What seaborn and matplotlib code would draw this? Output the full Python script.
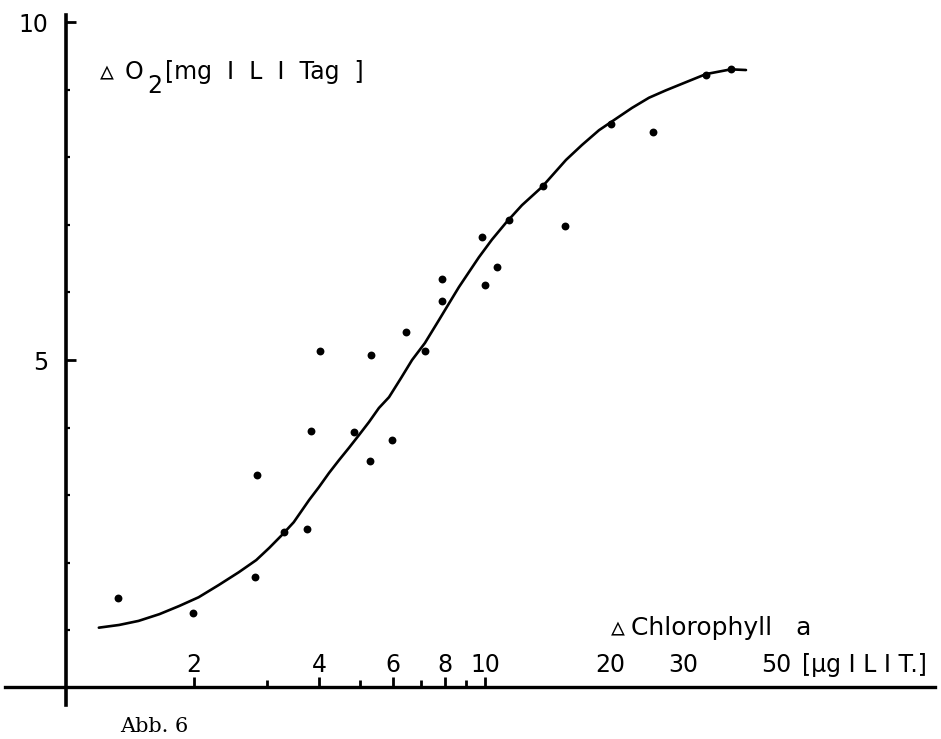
import matplotlib
matplotlib.use('Agg')
import matplotlib.pyplot as plt
import numpy as np
import pandas as pd
import seaborn as sns
from matplotlib.ticker import FixedLocator, FixedFormatter, NullFormatter

# Measured points: chlorophyll a [µg/l] vs. O2 production [mg/l/Tag]
chl = [1.31, 1.99, 2.80, 2.83, 3.29, 3.73, 3.82, 4.01, 4.84, 5.29, 5.32, 5.98, 6.46,
       7.17, 7.88, 7.88, 9.84, 10.0, 10.7, 11.4, 13.8, 15.6, 20.1, 25.3, 34.0, 39.0]
o2 = [1.48, 1.26, 1.79, 3.30, 2.46, 2.50, 3.95, 5.13, 3.93, 3.51, 5.07, 3.82, 5.41,
      5.13, 6.20, 5.87, 6.82, 6.11, 6.38, 7.07, 7.57, 6.98, 8.49, 8.37, 9.22, 9.30]

# Hand-drawn fitted curve
curve_chl = [1.18, 1.32, 1.47, 1.65, 1.84, 2.05, 2.29, 2.56, 2.82, 3.03, 3.25, 3.47,
             3.78, 3.99, 4.22, 4.46, 4.71, 4.98, 5.26, 5.56, 5.88, 6.28, 6.68, 7.17,
             7.75, 8.20, 8.66, 9.15, 9.67, 10.39, 11.23, 12.27, 13.71, 15.66, 17.10,
             18.80, 22.57, 24.79, 27.23, 30.41, 33.98, 39.0, 42.4]
curve_o2 = [1.04, 1.08, 1.14, 1.24, 1.36, 1.49, 1.67, 1.86, 2.04, 2.22, 2.41, 2.60,
            2.93, 3.12, 3.33, 3.52, 3.70, 3.89, 4.08, 4.29, 4.45, 4.73, 5.00, 5.25,
            5.59, 5.84, 6.08, 6.30, 6.52, 6.78, 7.03, 7.29, 7.56, 7.96, 8.18,
            8.40, 8.73, 8.88, 8.99, 9.11, 9.23, 9.30, 9.29]

x_tick_values = [2, 4, 6, 8, 10, 20, 30, 50]
x_tick_labels = ['2', '4', '6', '8', '10', '20', '30', '50']
x_minor_ticks = [3, 5, 7, 9]
y_tick_values = [5, 10]
y_tick_labels = ['5', '10']
y_minor_ticks = [1, 2, 3, 4, 6, 7, 8, 9]

sns.set_style('white')
plt.rcParams['font.family'] = ['DejaVu Sans']
plt.rcParams['text.color'] = 'black'

fig = plt.figure(figsize=(9.41, 7.39), dpi=100)
ax = fig.add_axes([5 / 941, 29 / 739, 930 / 941, 700 / 739])

pts = pd.DataFrame({'chl': chl, 'o2': o2})
crv = pd.DataFrame({'chl': curve_chl, 'o2': curve_o2})

sns.lineplot(data=crv, x='chl', y='o2', color='black', lw=1.9, sort=False, ax=ax)
sns.scatterplot(data=pts, x='chl', y='o2', color='black', s=32, linewidth=0, ax=ax, zorder=3)

ax.set_xscale('log')
ax.set_xlim(0.702, 120.7)
ax.set_ylim(-0.178, 10.178)
ax.set_xlabel('')
ax.set_ylabel('')

for s in ['top', 'right']:
    ax.spines[s].set_visible(False)
ax.spines['left'].set_position(('data', 0.985))
ax.spines['left'].set_bounds(-0.10, 10.10)
ax.spines['left'].set_linewidth(2.6)
ax.spines['left'].set_color('black')
ax.spines['bottom'].set_position(('data', 0.16))
ax.spines['bottom'].set_linewidth(2.4)
ax.spines['bottom'].set_color('black')

ax.xaxis.set_major_locator(FixedLocator(x_tick_values))
ax.xaxis.set_major_formatter(FixedFormatter(x_tick_labels))
ax.xaxis.set_minor_locator(FixedLocator(x_minor_ticks))
ax.xaxis.set_minor_formatter(NullFormatter())
ax.tick_params(axis='x', which='both', bottom=True, top=False)
ax.tick_params(axis='x', which='major', direction='in', length=7, width=2.0,
               pad=-7, labelsize=17, colors='black')
ax.tick_params(axis='x', which='minor', direction='in', length=5, width=2.0, colors='black')
for lab in ax.get_xticklabels():
    lab.set_va('bottom')
for t in ax.xaxis.get_major_ticks()[5:]:
    t.tick1line.set_visible(False)

ax.yaxis.set_major_locator(FixedLocator(y_tick_values))
ax.yaxis.set_major_formatter(FixedFormatter(y_tick_labels))
ax.yaxis.set_minor_locator(FixedLocator(y_minor_ticks))
ax.yaxis.set_minor_formatter(NullFormatter())
ax.tick_params(axis='y', which='both', left=True, right=False)
ax.tick_params(axis='y', which='major', direction='in', length=7, width=2.0,
               pad=13, labelsize=17, colors='black')
ax.tick_params(axis='y', which='minor', direction='in', length=3, width=1.6, colors='black')

W, H = 941, 739
def ftext(px, py, s, **kw):
    fig.text(px / W, 1 - py / H, s, va='baseline', color='black', **kw)

# y-axis quantity label
ftext(100, 79, '▵', fontsize=20)
ftext(125, 79, 'O', fontsize=17)
ftext(147, 93, '2', fontsize=17)
ftext(165, 79, '[mg  I  L  I  Tag  ]', fontsize=17)
# x-axis quantity label and unit
ftext(611, 635, '▵', fontsize=20)
ftext(631, 635, 'Chlorophyll   a', fontsize=18)
ftext(802, 672, '[µg I L I T.]', fontsize=17)
# caption
ftext(120, 732, 'Abb. 6', family='DejaVu Serif', fontsize=15)

fig.savefig('out.png', dpi=100)
